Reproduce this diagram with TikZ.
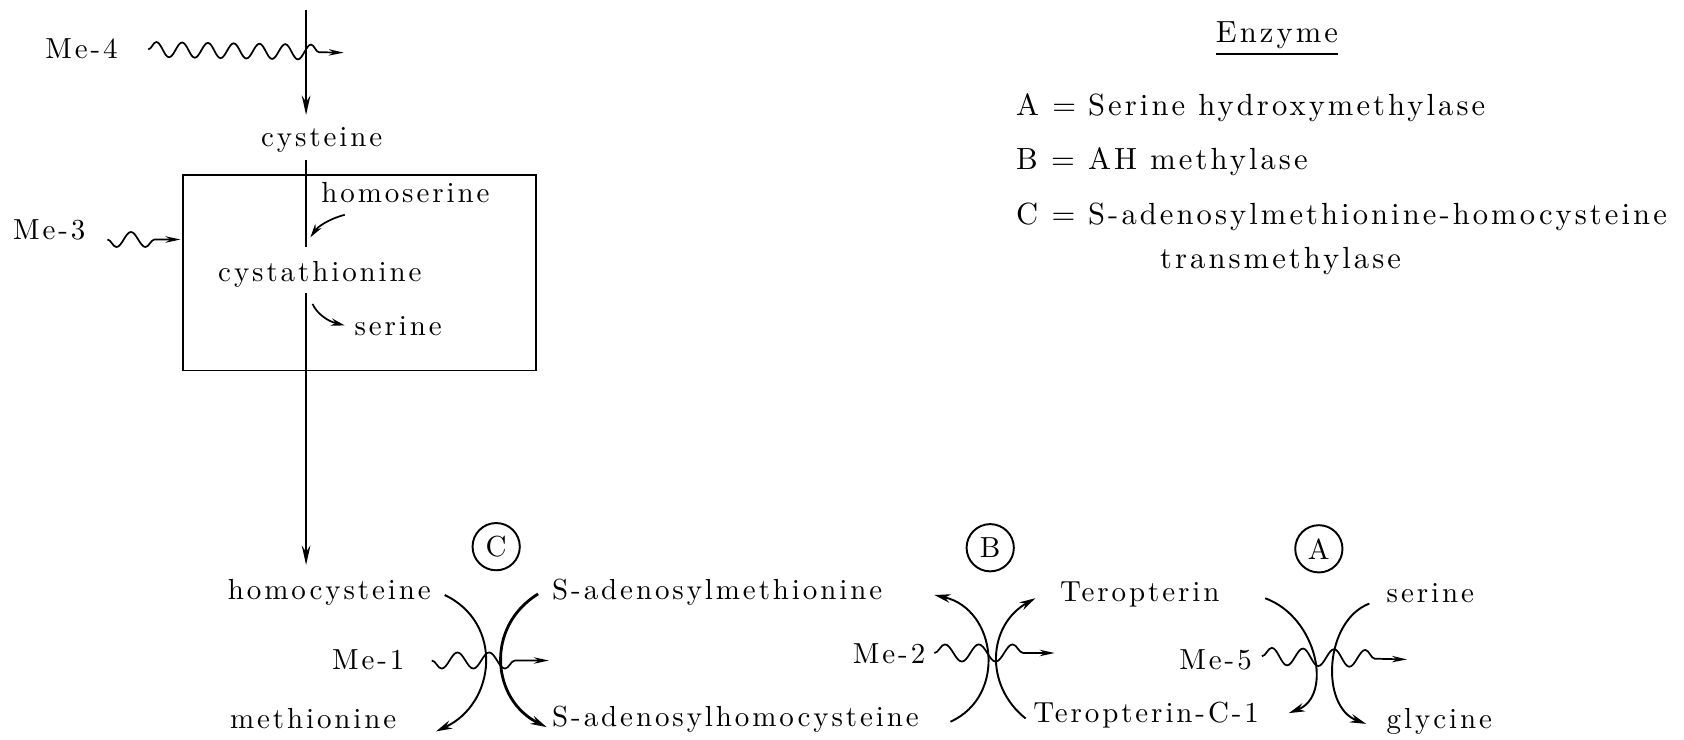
\documentclass[tikz,border=0pt]{standalone}
\usepackage{fontspec}
\newfontfamily\lbfont{lmroman10-regular.otf}[LetterSpace=10]
\usetikzlibrary{arrows.meta,decorations.pathmorphing}
\tikzset{
  lbl/.style={inner sep=0pt, anchor=west, text height=18pt, text depth=6pt,
    font=\lbfont\fontsize{27}{30}\selectfont},
  leg/.style={lbl, font=\lbfont\fontsize{28.5}{32}\selectfont},
  ln/.style={line width=1.8pt},
  arr/.style={ln, -{Stealth[length=18pt,width=8pt]}},
  carr/.style={ln, -{Stealth[length=15pt,width=8pt]}},
  sarr/.style={line width=1.6pt, -{Stealth[length=13pt,width=7pt]}},
  wave/.style n args={3}{line width=1.6pt, decorate,
    decoration={snake, amplitude=#2pt, segment length=#1pt, post length=#3pt},
    -{Stealth[length=14pt,width=6pt]}},
  enz/.style={circle, draw, ln, minimum size=44pt, inner sep=0pt,
    font=\lbfont\fontsize{27}{30}\selectfont}
}
\begin{document}
\begin{tikzpicture}[x=1pt,y=-1pt]
\useasboundingbox (0,0) rectangle (1568,689);

% ---------- top left ----------
\node[lbl] (me4) at (42,48) {Me-4};
\node[lbl] (cys) at (243,130) {cysteine};
\node[lbl] (hser) at (299,183) {homoserine};
\node[lbl] (me3) at (12,217) {Me-3};
\node[lbl] (cta) at (203,256) {cystathionine};
\node[lbl] (ser1) at (330,306) {serine};
\node[draw, ln, inner sep=0pt, minimum width=329pt, minimum height=182pt] (box) at (334.5,254) {};

\coordinate (top) at (285,9);
\coordinate (cysin) at (285,107);
\coordinate (cysout) at (285,149);
\coordinate (ctain) at (285,230);
\coordinate (ctaout) at (285,273);
\coordinate (hcysin) at (285,526);

\draw[arr] (top) -- (cysin);
\draw[ln] (cysout) -- (ctain);
\draw[arr] (ctaout) -- (hcysin);

\coordinate (w4s) at (138,46);
\coordinate (w4e) at (320,49);
\draw[wave={24}{7}{22}] (w4s) -- (w4e);

\coordinate (w3s) at (100,223);
\coordinate (w3e) at (168,223);
\draw[wave={27}{-7}{13}] (w3s) -- (w3e);

\coordinate (hs1) at (321,200);
\coordinate (hs2) at (289,221);
\draw[sarr] (hs1) .. controls (306,204) and (296,211) .. (hs2);
\coordinate (sr1) at (291,283);
\coordinate (sr2) at (321,303);
\draw[sarr] (sr1) .. controls (295,292) and (305,299) .. (sr2);

% ---------- bottom: enzyme C ----------
\node[enz] (encC) at (462,509) {C};
\node[lbl] (hcys) at (212,552) {homocysteine};
\node[lbl] (met) at (214,672) {methionine};
\node[lbl] (me1) at (309,617) {Me-1};
\node[lbl] (sam) at (514,552) {S-adenosylmethionine};
\node[lbl] (sah) at (514,670) {S-adenosylhomocysteine};

\coordinate (c1s) at (414,554);
\coordinate (c1e) at (406,681);
\draw[carr] (c1s) .. controls (469,580) and (462,655) .. (c1e);
\coordinate (c2s) at (501,553);
\coordinate (c2e) at (509,677);
\draw[carr, line width=2.6pt] (c2s) .. controls (451,584) and (458,652) .. (c2e);
\coordinate (w1s) at (402,615);
\coordinate (w1e) at (511,615);
\draw[wave={29.5}{-7.5}{20}] (w1s) -- (w1e);

% ---------- enzyme B ----------
\node[enz] (encB) at (922,510) {B};
\node[lbl] (me2) at (794,612) {Me-2};
\node[lbl] (ter) at (987,554) {Teropterin};
\node[lbl] (terc) at (962,667) {Teropterin-C-1};

\coordinate (b1s) at (885,672);
\coordinate (b1e) at (870,554);
\draw[carr] (b1s) .. controls (938,648) and (928,567) .. (b1e);
\coordinate (b2s) at (955,669);
\coordinate (b2e) at (964,557);
\draw[carr] (b2s) .. controls (916,638) and (920,582) .. (b2e);
\coordinate (w2s) at (870,608);
\coordinate (w2e) at (982,608);
\draw[wave={31.5}{8}{17}] (w2s) -- (w2e);

% ---------- enzyme A ----------
\node[enz] (encA) at (1228,511) {A};
\node[lbl] (me5) at (1098,617) {Me-5};
\node[lbl] (ser2) at (1291,555) {serine};
\node[lbl] (gly) at (1291,672) {glycine};

\coordinate (a1s) at (1178,557);
\coordinate (a1e) at (1200,664);
\draw[carr] (a1s) .. controls (1227,575) and (1241,648) .. (a1e);
\coordinate (a2s) at (1275,562);
\coordinate (a2e) at (1272,674);
\draw[carr] (a2s) .. controls (1233,578) and (1229,658) .. (a2e);
\coordinate (w5s) at (1175,611);
\coordinate (w5e) at (1310,614);
\draw[wave={29}{8}{20}] (w5s) -- (w5e);

% ---------- legend ----------
\node[leg] (enzt) at (1132,34) {Enzyme};
\draw[line width=1.4pt] ([yshift=-4pt]enzt.south west) -- ([yshift=-4pt]enzt.south east);
\node[leg] (la) at (946,102) {A =};
\node[leg] (lat) at (1013,102) {Serine hydroxymethylase};
\node[leg] (lb) at (946,152) {B =};
\node[leg] (lbt) at (1013,152) {AH methylase};
\node[leg] (lc) at (946,203) {C =};
\node[leg] (lct) at (1013,203) {S-adenosylmethionine-homocysteine};
\node[leg] (lct2) at (1080,244) {transmethylase};
\end{tikzpicture}
\end{document}
